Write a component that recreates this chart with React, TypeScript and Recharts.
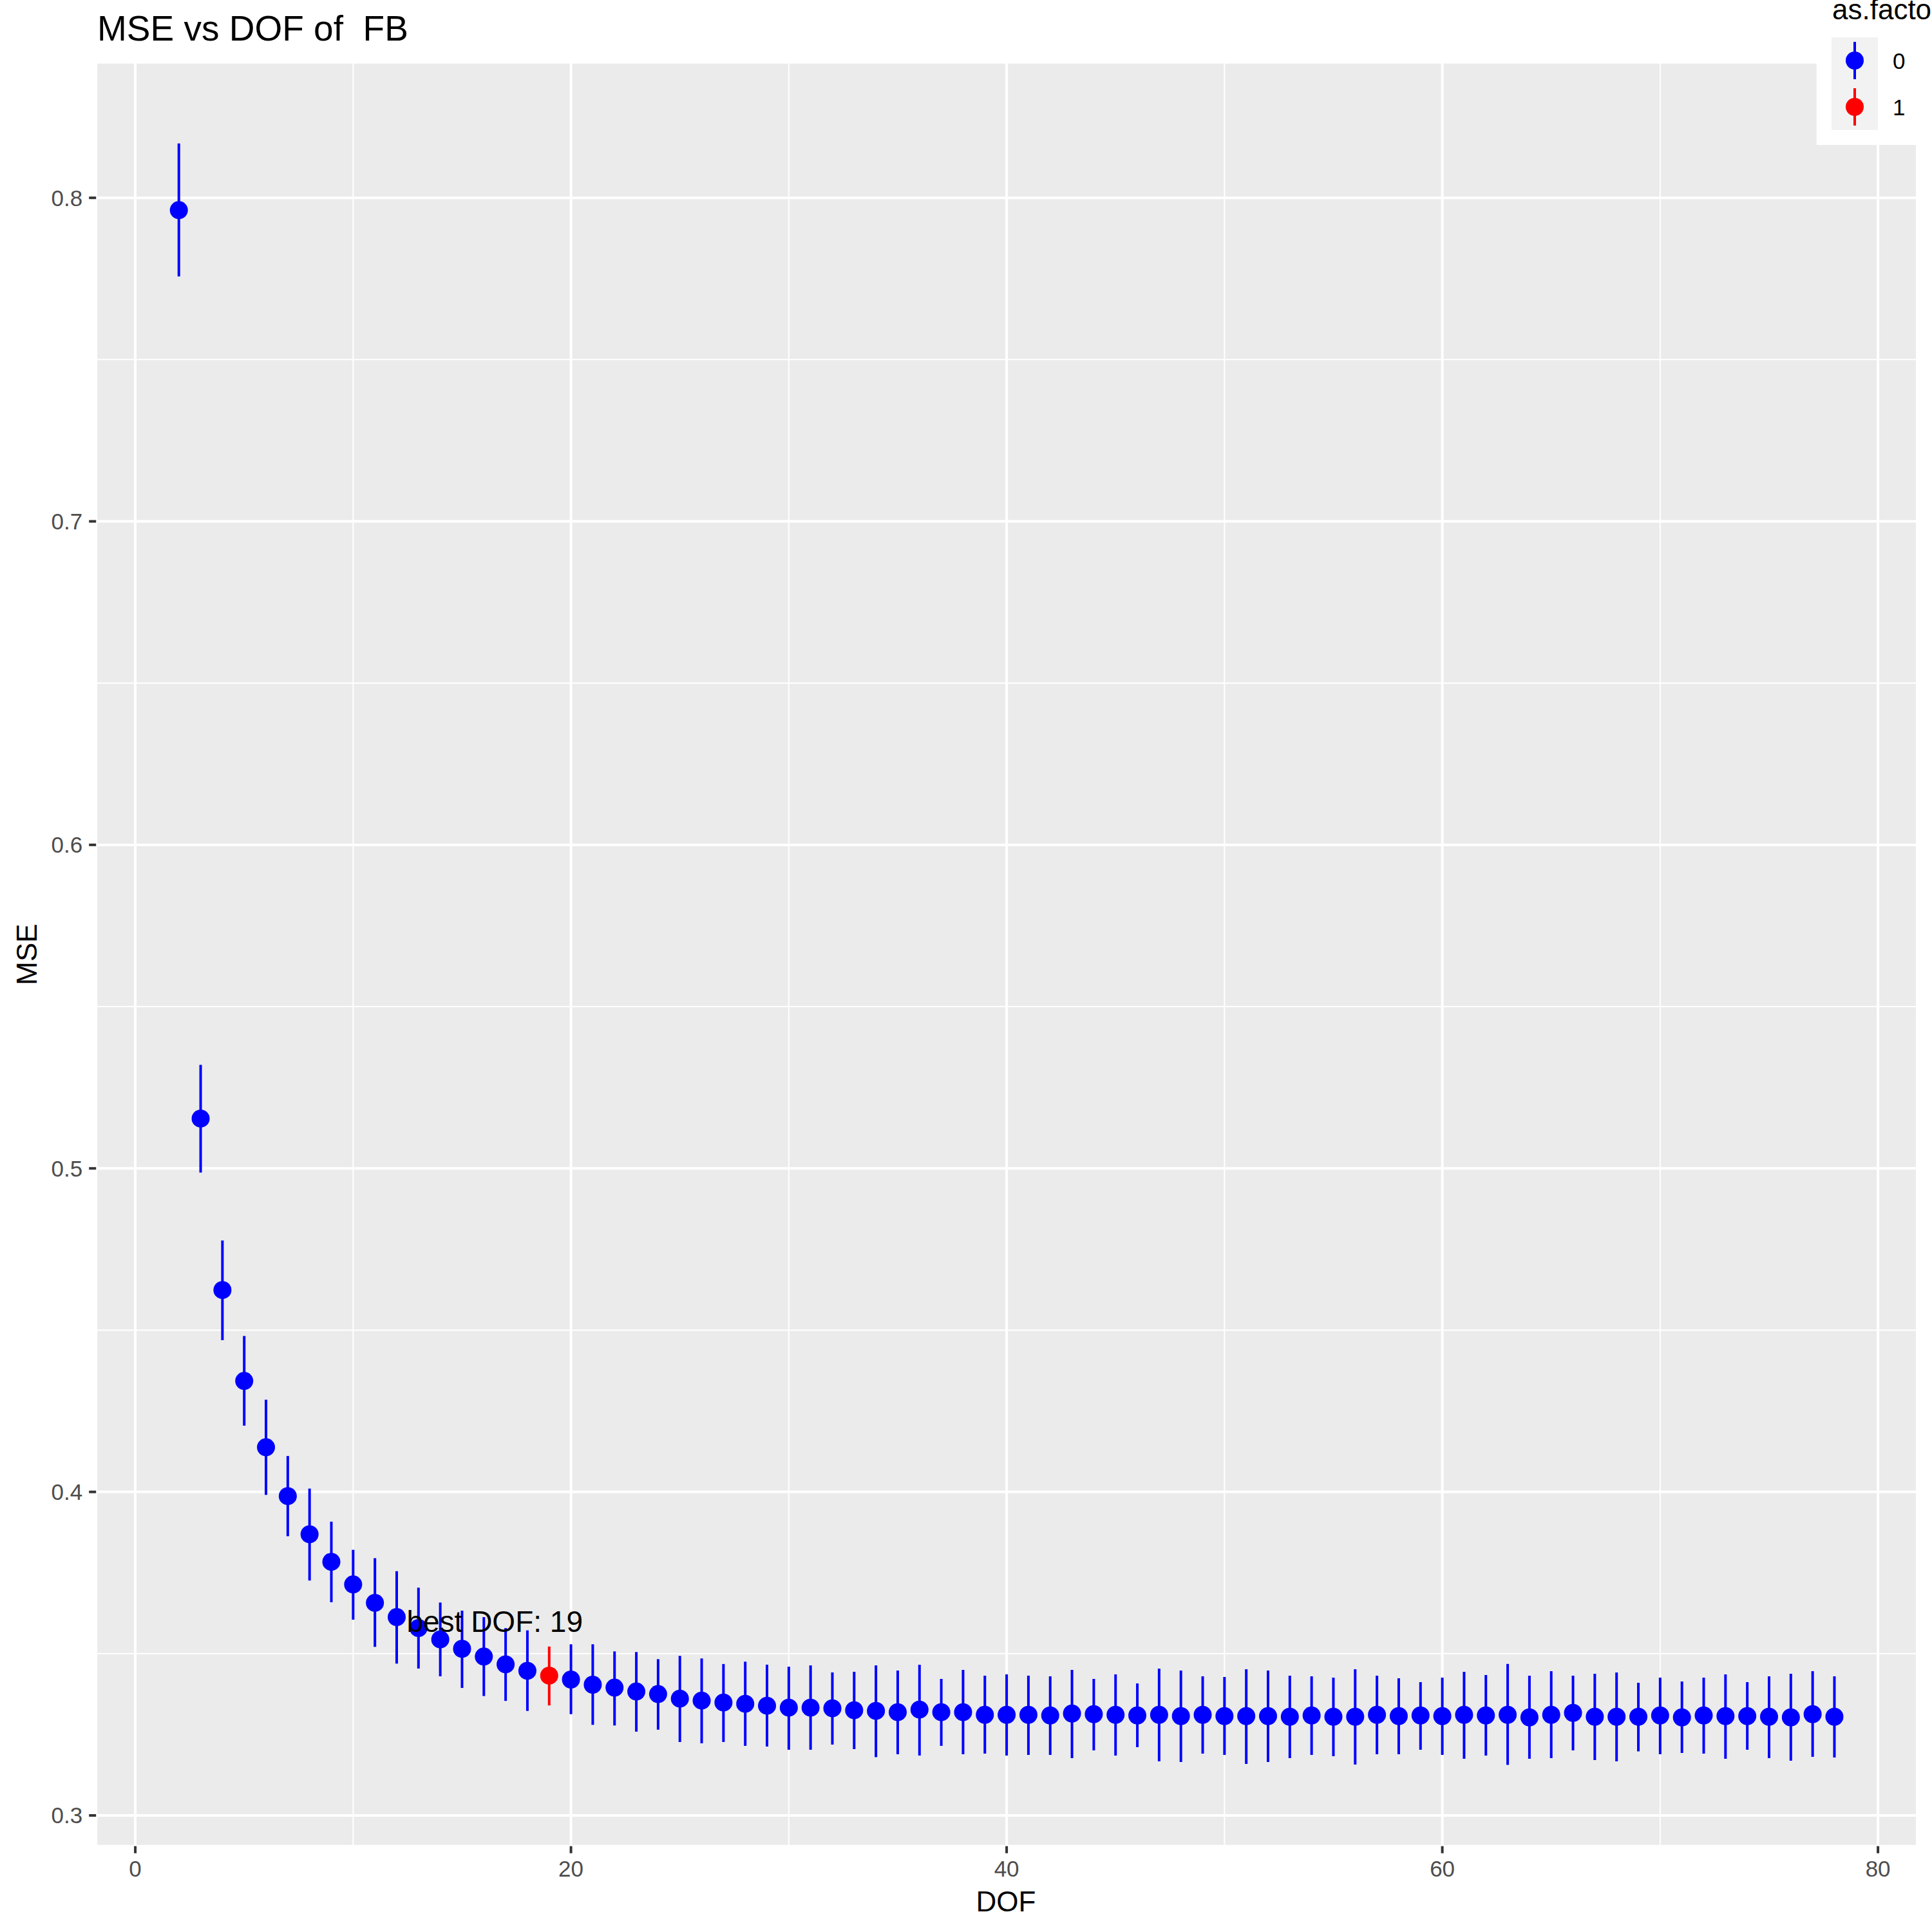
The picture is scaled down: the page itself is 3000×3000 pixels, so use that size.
import {
  ComposedChart,
  Scatter,
  ErrorBar,
  XAxis,
  YAxis,
  CartesianGrid,
} from 'recharts'

const dofValues = [
  2, 3, 4, 5, 6, 7, 8, 9, 10, 11, 12, 13, 14, 15, 16, 17, 18, 19, 20, 21,
  22, 23, 24, 25, 26, 27, 28, 29, 30, 31, 32, 33, 34, 35, 36, 37, 38, 39, 40,
  41, 42, 43, 44, 45, 46, 47, 48, 49, 50, 51, 52, 53, 54, 55, 56, 57, 58, 59,
  60, 61, 62, 63, 64, 65, 66, 67, 68, 69, 70, 71, 72, 73, 74, 75, 76, 77, 78,
]

const mseValues = [
  0.7962, 0.5154, 0.4624, 0.4343, 0.4138, 0.3987, 0.3869, 0.3784, 0.3714, 0.3657,
  0.3613, 0.3579, 0.3544, 0.3515, 0.3491, 0.3467, 0.3447, 0.3432, 0.342, 0.3404,
  0.3395, 0.3383, 0.3375, 0.3361, 0.3355, 0.3349, 0.3345, 0.3339, 0.3333, 0.3333,
  0.3331, 0.3325, 0.3323, 0.3319, 0.3327, 0.3319, 0.3319, 0.3311, 0.3311, 0.3311,
  0.3309, 0.3315, 0.3313, 0.3311, 0.3309, 0.3311, 0.3307, 0.3311, 0.3307, 0.3307,
  0.3307, 0.3305, 0.3309, 0.3305, 0.3305, 0.3311, 0.3307, 0.3309, 0.3307, 0.3311,
  0.3309, 0.3311, 0.3303, 0.3311, 0.3317, 0.3305, 0.3305, 0.3305, 0.3309, 0.3303,
  0.3309, 0.3307, 0.3307, 0.3305, 0.3303, 0.3313, 0.3305,
]

const upperValues = [
  0.8168, 0.532, 0.4777, 0.4482, 0.4285, 0.4111, 0.401, 0.3908, 0.3821, 0.3795,
  0.3755, 0.3704, 0.3658, 0.3633, 0.3613, 0.3579, 0.3572, 0.3522, 0.3529, 0.3529,
  0.3507, 0.3505, 0.3483, 0.3493, 0.3485, 0.3468, 0.3475, 0.3466, 0.346, 0.3464,
  0.3442, 0.3444, 0.3464, 0.3448, 0.3466, 0.3422, 0.345, 0.3432, 0.3436, 0.3432,
  0.343, 0.345, 0.3422, 0.3436, 0.3408, 0.3454, 0.3448, 0.343, 0.3428, 0.3452,
  0.3448, 0.3432, 0.343, 0.3426, 0.3452, 0.3432, 0.3424, 0.3412, 0.3426, 0.3444,
  0.3434, 0.3468, 0.3432, 0.3446, 0.3432, 0.3438, 0.3442, 0.341, 0.3426, 0.3414,
  0.3426, 0.3436, 0.3412, 0.343, 0.3438, 0.3446, 0.343,
]

const lowerValues = [
  0.7757, 0.4987, 0.4469, 0.4205, 0.3991, 0.3863, 0.3726, 0.3659, 0.3605, 0.3521,
  0.3469, 0.3454, 0.343, 0.3394, 0.3369, 0.3354, 0.3323, 0.334, 0.3313, 0.328,
  0.3278, 0.3259, 0.3265, 0.3227, 0.3223, 0.3227, 0.3215, 0.3213, 0.3203, 0.3203,
  0.3219, 0.3205, 0.318, 0.3189, 0.3185, 0.3215, 0.3189, 0.3191, 0.3185, 0.3187,
  0.3187, 0.3177, 0.3201, 0.3185, 0.3211, 0.3167, 0.3165, 0.3191, 0.3187, 0.3159,
  0.3165, 0.3177, 0.3187, 0.3183, 0.3157, 0.3189, 0.3189, 0.3203, 0.3187, 0.3175,
  0.3185, 0.3156, 0.3175, 0.3177, 0.3201, 0.3171, 0.3167, 0.3198, 0.3189, 0.3193,
  0.3191, 0.3175, 0.3203, 0.3177, 0.3169, 0.3181, 0.3179,
]

const bestDof = 19
const xTicks = [0, 20, 40, 60, 80]
const yTicks = [0.3, 0.4, 0.5, 0.6, 0.7, 0.8]
const xMinor = [10, 30, 50, 70]
const yMinor = [0.35, 0.45, 0.55, 0.65, 0.75]
const labelData = [{ x: 16.5, y: 0.36, text: 'best DOF: 19' }]
const legendLabels = ['0', '1']

const FONT = '"Liberation Sans", Arial, sans-serif'

const rows = dofValues.map((d, i) => ({
  dof: d,
  mse: mseValues[i],
  err: [mseValues[i] - lowerValues[i], upperValues[i] - mseValues[i]],
}))
const normalRows = rows.filter((r) => r.dof !== bestDof)
const bestRows = rows.filter((r) => r.dof === bestDof)

const dot = (color: string) => (p: any) => (
  <circle cx={p.cx} cy={p.cy} r={14} fill={color} />
)

const textShape = (p: any) => (
  <text
    x={p.cx}
    y={p.cy}
    dy="0.36em"
    textAnchor="middle"
    fontSize={46}
    fontFamily={FONT}
    fill="#000000"
  >
    {p.payload.text}
  </text>
)

export default function App() {
  return (
    <div style={{ position: 'absolute', left: 0, top: 0, width: 3000, height: 3000, background: '#fff' }}>
      <ComposedChart
        width={3000}
        height={3000}
        margin={{ top: 96.7, right: 23, bottom: 0, left: 0 }}
      >
        <CartesianGrid
          fill="#EBEBEB"
          stroke="#FFFFFF"
          strokeWidth={2}
          horizontalValues={yMinor}
          verticalValues={xMinor}
        />
        <CartesianGrid stroke="#FFFFFF" strokeWidth={4} />
        <XAxis
          type="number"
          dataKey="dof"
          domain={[-1.8, 81.8]}
          ticks={xTicks}
          allowDataOverflow
          height={133.3}
          axisLine={false}
          tickSize={11}
          tickMargin={11}
          tickLine={{ stroke: '#333333', strokeWidth: 4 }}
          tick={{ fill: '#4D4D4D', fontSize: 35, fontFamily: FONT }}
        />
        <YAxis
          type="number"
          dataKey="mse"
          domain={[0.2905, 0.8419]}
          ticks={yTicks}
          allowDataOverflow
          width={149.2}
          axisLine={false}
          tickSize={11}
          tickMargin={10}
          tickLine={{ stroke: '#333333', strokeWidth: 4 }}
          tick={{ fill: '#4D4D4D', fontSize: 35, fontFamily: FONT }}
        />
        <Scatter data={normalRows} dataKey="mse" shape={dot('#0000FF')} isAnimationActive={false}>
          <ErrorBar dataKey="err" direction="y" width={0} stroke="#0000FF" strokeWidth={4} isAnimationActive={false} />
        </Scatter>
        <Scatter data={bestRows} dataKey="mse" shape={dot('#FF0000')} isAnimationActive={false}>
          <ErrorBar dataKey="err" direction="y" width={0} stroke="#FF0000" strokeWidth={4} isAnimationActive={false} />
        </Scatter>
        <Scatter
          data={labelData.map((l) => ({ dof: l.x, mse: l.y, text: l.text }))}
          dataKey="mse"
          shape={textShape}
          isAnimationActive={false}
        />
      </ComposedChart>
      <svg
        width={3000}
        height={3000}
        style={{ position: 'absolute', left: 0, top: 0, pointerEvents: 'none' }}
        fontFamily={FONT}
      >
        <text x={151} y={63} fontSize={55} fill="#000" style={{ whiteSpace: 'pre' }}>
          {'MSE vs DOF of  FB'}
        </text>
        <text x={1562} y={2968} fontSize={44} textAnchor="middle" fill="#000">
          DOF
        </text>
        <text
          x={57}
          y={1482}
          fontSize={44}
          textAnchor="middle"
          fill="#000"
          transform="rotate(-90 57 1482)"
        >
          MSE
        </text>
        <rect x={2820.7} y={0} width={180} height={225} fill="#FFFFFF" />
        {/* legend title runs past the right edge, as in the original */}
        <text x={2845} y={30} fontSize={44} fill="#000">
          as.factor(best)
        </text>
        <rect x={2844} y={58} width={72} height={144} fill="#F2F2F2" />
        {['#0000FF', '#FF0000'].map((c, i) => (
          <g key={c}>
            <line x1={2880} x2={2880} y1={65 + i * 72} y2={123 + i * 72} stroke={c} strokeWidth={4} />
            <circle cx={2880} cy={94 + i * 72} r={14} fill={c} />
            <text x={2939} y={94 + i * 72} dy="0.36em" fontSize={35} fill="#000">
              {legendLabels[i]}
            </text>
          </g>
        ))}
      </svg>
    </div>
  )
}
